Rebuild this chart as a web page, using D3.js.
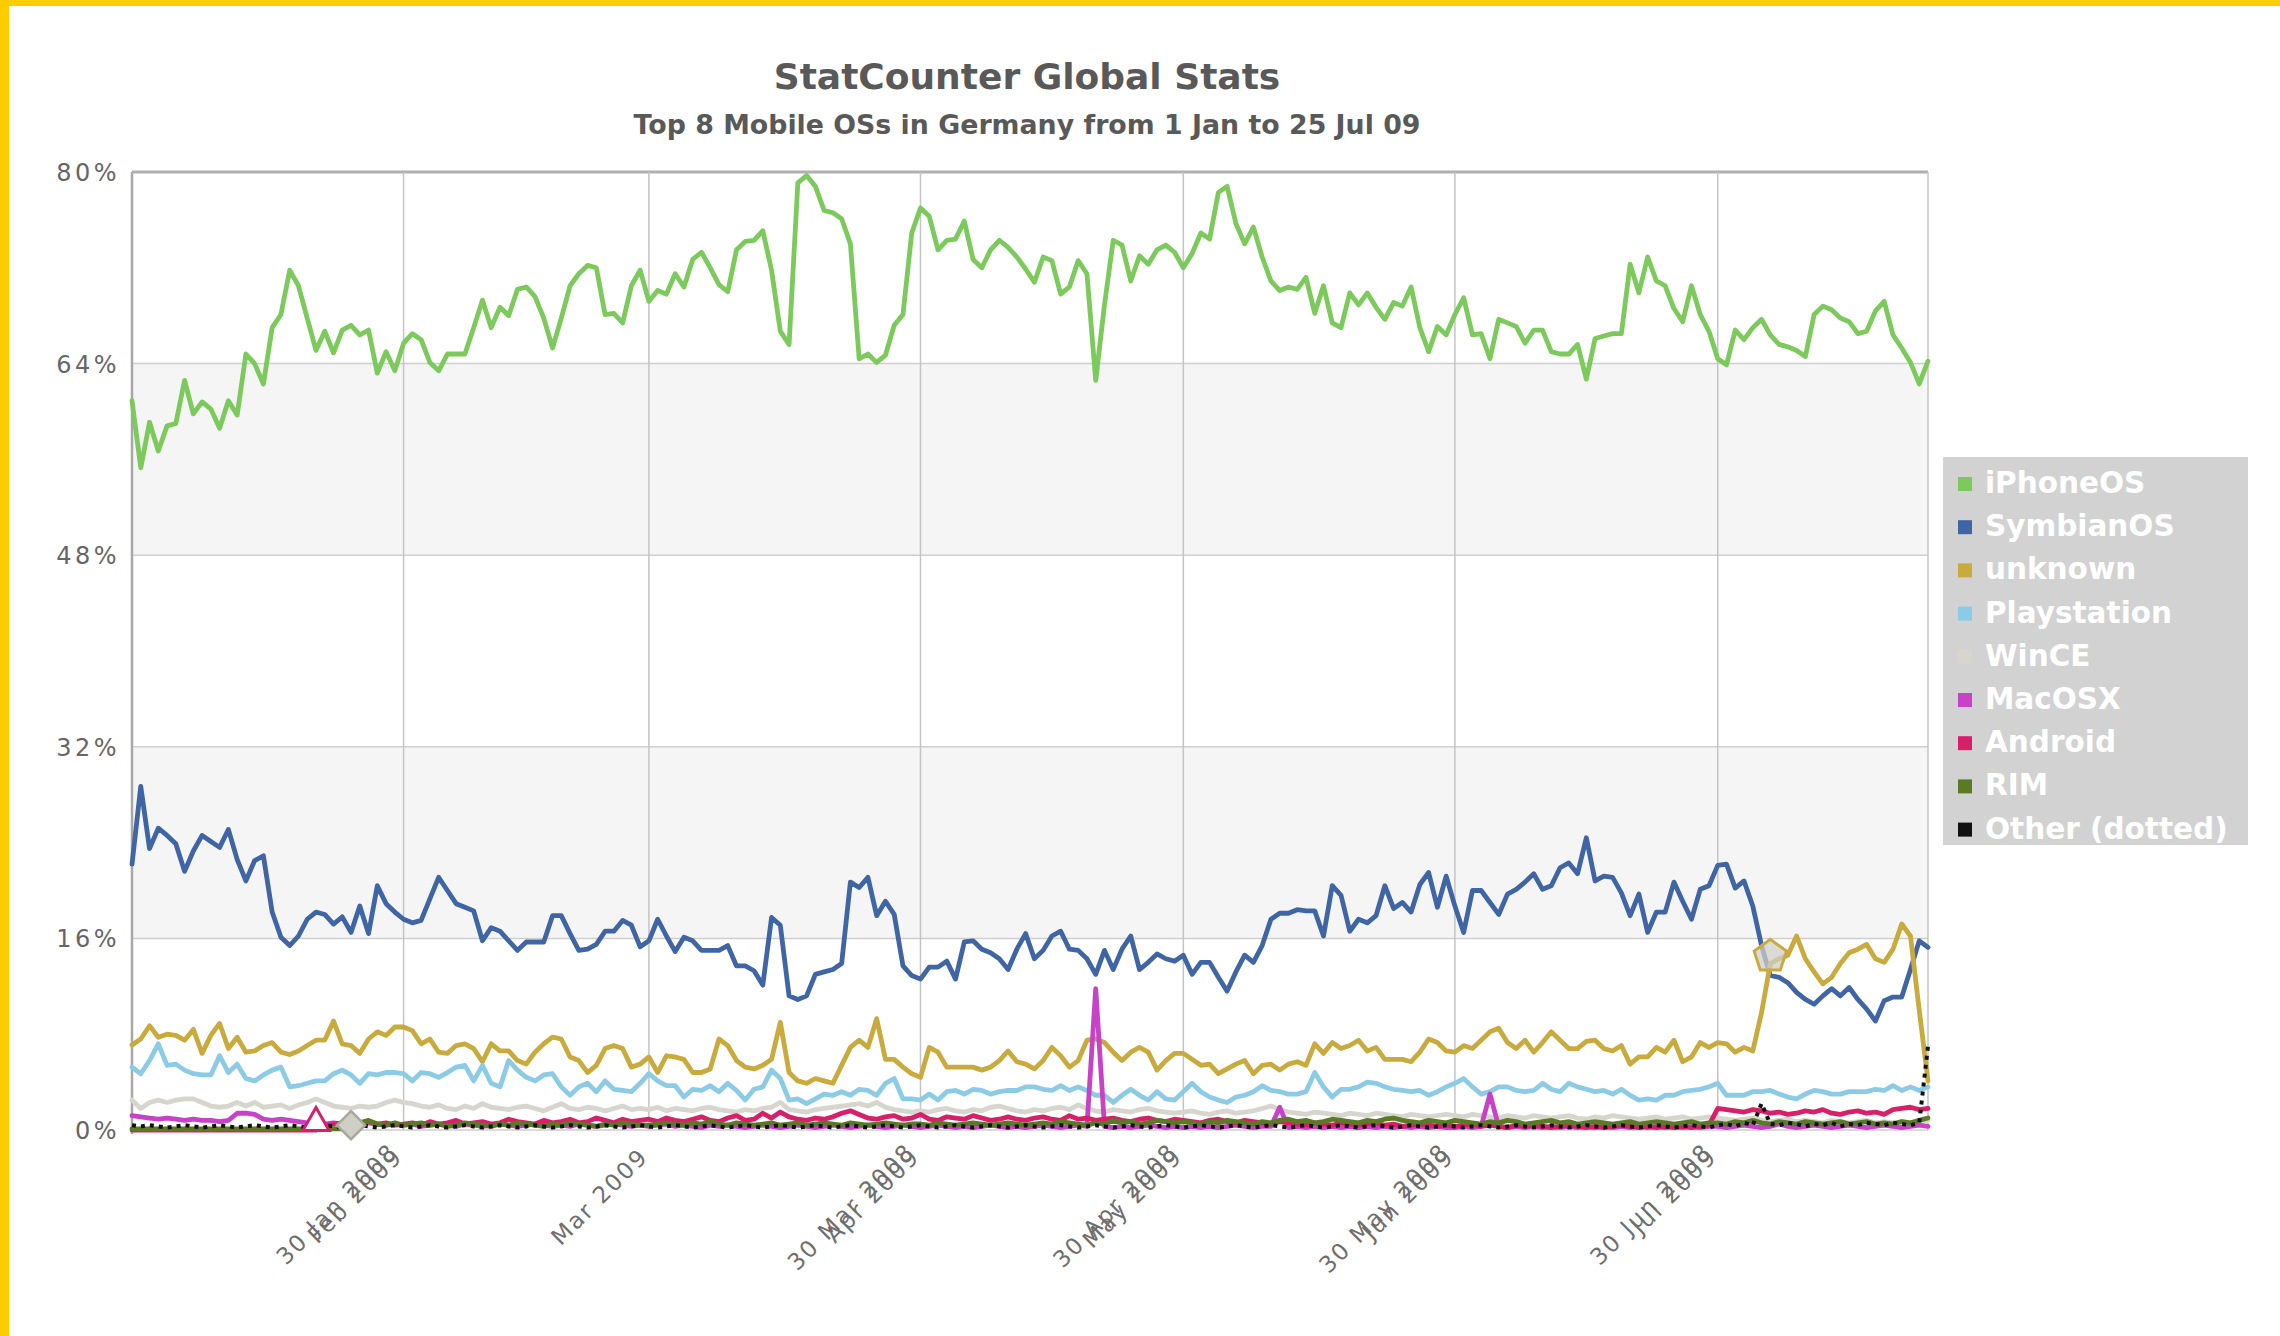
<!DOCTYPE html>
<html><head><meta charset="utf-8">
<script src="https://cdn.jsdelivr.net/npm/d3@7"></script>
<style>html,body{margin:0;padding:0;background:#fff;} svg{display:block;}</style>
</head><body>
<svg id="chart" width="2280" height="1336"></svg>
<script>
// ---------- DATA (daily values, 1 Jan 2009 .. 25 Jul 2009) ----------
const titleText = "StatCounter Global Stats";
const subtitleText = "Top 8 Mobile OSs in Germany from 1 Jan to 25 Jul 09";
const seriesNames = ["iPhoneOS","SymbianOS","unknown","Playstation","WinCE","MacOSX","Android","RIM","Other (dotted)"];
const seriesColors = ["#7cc95c","#4065a5","#c9aa3c","#8ccbe6","#d6d6ce","#c842c8","#d8206a","#5a7a26","#111111"];

const iphone = [
 60.9,55.3,59.1,56.7,58.8,59.0,62.6,59.8,60.8,60.2,58.6,60.9,59.7,64.8,64.0,62.3,67.0,68.1,71.8,70.5,67.8,65.1,66.7,64.9,66.8,67.2,66.4,66.8,63.2,65.0,63.4,
 65.7,66.5,66.0,64.1,63.4,64.8,64.8,64.8,67.0,69.3,67.0,68.7,68.0,70.2,70.4,69.6,67.8,65.3,67.8,70.5,71.5,72.2,72.0,68.1,68.2,67.4,70.5,71.8,
 69.2,70.1,69.8,71.5,70.4,72.7,73.3,72.0,70.6,70.0,73.5,74.2,74.3,75.1,71.8,66.7,65.6,79.1,79.7,78.8,76.8,76.6,76.1,74.0,64.4,64.8,64.1,64.7,67.2,68.1,74.9,
 77.0,76.3,73.5,74.3,74.4,75.9,72.7,72.0,73.5,74.3,73.7,72.9,71.9,70.8,72.9,72.6,69.8,70.4,72.6,71.5,62.6,68.9,74.3,73.9,70.9,73.0,72.3,73.5,73.9,73.3,
 72.0,73.2,74.9,74.4,78.3,78.8,75.7,74.0,75.4,72.9,70.9,70.1,70.4,70.2,71.2,68.2,70.5,67.4,67.0,69.9,68.9,69.9,68.7,67.7,69.1,68.8,70.4,67.0,65.0,67.1,66.4,
 68.1,69.5,66.4,66.5,64.4,67.7,67.4,67.1,65.7,66.8,66.8,65.0,64.8,64.8,65.6,62.7,66.1,66.3,66.5,66.5,72.3,69.9,72.9,70.9,70.5,68.6,67.5,70.5,68.1,66.7,
 64.4,63.9,66.8,66.0,67.0,67.7,66.4,65.6,65.4,65.1,64.6,68.1,68.8,68.5,67.8,67.5,66.5,66.7,68.4,69.2,66.4,65.3,64.1,62.3,64.2
];
const symbian = [
 22.2,28.7,23.5,25.2,24.6,23.9,21.6,23.3,24.6,24.1,23.6,25.1,22.6,20.8,22.5,22.9,18.2,16.1,15.4,16.2,17.6,18.2,18.0,17.2,17.8,16.5,18.7,16.4,20.4,18.9,18.2,
 17.6,17.3,17.5,19.3,21.1,20.0,18.9,18.6,18.3,15.8,16.9,16.6,15.8,15.0,15.7,15.7,15.7,17.9,17.9,16.4,15.0,15.1,15.5,16.6,16.6,17.5,17.1,15.3,
 15.8,17.6,16.2,14.9,16.1,15.8,15.0,15.0,15.0,15.4,13.7,13.7,13.3,12.1,17.75,17.1,11.2,10.9,11.2,13.0,13.2,13.4,13.9,20.7,20.25,21.1,17.9,19.1,18.0,13.7,12.9,
 12.6,13.6,13.6,14.1,12.6,15.7,15.8,15.1,14.8,14.3,13.4,15.1,16.4,14.3,15.0,16.2,16.6,15.1,15.0,14.3,13.0,15.0,13.4,15.1,16.2,13.4,14.0,14.7,14.3,14.1,
 14.6,13.0,14.0,14.0,12.75,11.6,13.2,14.6,14.0,15.4,17.6,18.1,18.1,18.4,18.3,18.3,16.2,20.4,19.6,16.6,17.6,17.3,17.9,20.4,18.5,19.0,18.2,20.5,21.5,18.6,21.2,
 18.7,16.5,20.0,20.0,19.0,18.0,19.7,20.1,20.7,21.4,20.1,20.4,21.9,22.3,21.4,24.4,20.8,21.2,21.1,19.8,17.9,19.7,16.5,18.2,18.2,20.7,19.1,17.6,20.1,20.4,
 22.1,22.2,20.2,20.8,18.7,15.4,12.9,12.75,12.3,11.5,10.9,10.5,11.2,11.8,11.2,11.9,10.9,10.1,9.1,10.8,11.1,11.1,13.4,15.8,15.25
];
const unknown = [
 7.1,7.6,8.7,7.75,8.0,7.9,7.5,8.4,6.4,7.9,8.9,6.8,7.75,6.5,6.6,7.05,7.3,6.5,6.3,6.6,7.05,7.5,7.5,9.1,7.2,7.05,6.4,7.6,8.2,7.9,8.6,
 8.6,8.3,7.2,7.6,6.5,6.4,7.05,7.2,6.8,5.7,7.2,6.6,6.6,5.8,5.5,6.5,7.2,7.75,7.6,6.1,5.8,4.8,5.4,6.8,7.05,6.8,5.25,5.5,
 6.1,4.8,6.2,6.1,5.9,4.8,4.8,5.1,7.6,7.05,5.8,5.25,5.1,5.4,5.9,9.0,4.8,4.1,3.9,4.3,4.1,3.9,5.4,6.9,7.5,6.9,9.3,5.9,5.9,5.25,4.7,
 4.4,6.9,6.5,5.25,5.25,5.25,5.25,5.0,5.25,5.8,6.6,5.7,5.5,5.1,5.8,6.9,6.2,5.25,5.8,7.5,7.6,7.3,6.5,5.8,6.5,6.9,6.5,5.0,5.8,6.4,
 6.4,5.9,5.4,5.5,4.7,5.1,5.5,5.8,4.7,5.4,5.5,5.0,5.5,5.7,5.4,7.2,6.4,7.3,6.8,7.05,7.5,6.6,6.9,5.9,5.9,5.9,5.7,6.5,7.6,7.3,6.6,
 6.5,7.05,6.8,7.5,8.2,8.5,7.3,6.8,7.5,6.5,7.3,8.2,7.5,6.8,6.8,7.4,7.5,6.8,6.6,7.05,5.5,6.1,6.1,6.9,6.5,7.5,5.7,6.1,7.3,6.9,
 7.3,7.2,6.5,6.9,6.6,9.8,13.9,14.3,14.6,16.2,14.3,13.2,12.2,12.75,13.9,14.8,15.1,15.5,14.3,14.0,15.1,17.2,16.2,10.0,4.1
];
const playstation = [
 5.25,4.7,5.8,7.2,5.4,5.5,5.0,4.7,4.6,4.6,6.2,4.8,5.5,4.3,4.1,4.6,5.0,5.25,3.6,3.7,3.9,4.1,4.1,4.7,5.0,4.6,3.9,4.7,4.6,4.8,4.8,
 4.7,4.1,4.8,4.7,4.4,4.8,5.25,5.4,4.1,5.4,3.9,3.6,5.8,5.0,4.4,4.1,4.6,4.7,3.6,2.9,3.6,3.9,3.2,4.1,3.4,3.3,3.2,3.9,
 4.7,4.1,3.7,3.7,2.75,3.4,3.3,3.7,3.2,3.9,3.3,2.5,3.4,3.6,5.0,4.3,2.5,2.6,2.2,2.6,3.0,2.9,3.2,2.9,3.4,3.3,2.9,3.9,4.3,2.6,2.6,
 2.5,3.0,2.5,3.2,3.3,3.0,3.4,3.3,3.0,3.2,3.3,3.3,3.6,3.6,3.4,3.3,3.7,3.3,3.6,3.3,2.9,2.9,2.3,2.9,3.4,2.9,2.5,3.2,2.6,2.5,
 3.2,3.9,3.2,2.75,2.5,2.3,2.75,2.9,3.2,3.7,3.3,3.2,3.0,3.0,3.2,4.8,3.6,2.75,3.4,3.4,3.6,4.0,3.9,3.6,3.4,3.3,3.2,3.3,2.9,3.2,3.6,
 3.9,4.3,3.6,3.0,3.2,3.6,3.6,3.3,3.2,3.3,3.9,3.4,3.2,3.9,3.6,3.4,3.2,3.3,3.0,3.4,2.9,2.5,2.6,2.5,2.9,2.9,3.2,3.3,3.4,3.6,
 3.9,2.9,2.9,2.9,3.2,3.2,3.3,3.0,2.75,2.6,3.0,3.3,3.2,3.0,3.0,3.2,3.2,3.2,3.4,3.3,3.7,3.3,3.6,3.3,3.6
];
const wince = [
 2.5,1.8,2.3,2.5,2.3,2.5,2.6,2.6,2.3,2.0,1.9,2.0,2.3,2.0,2.3,1.9,2.0,2.1,1.8,2.1,2.3,2.6,2.3,2.0,1.9,1.8,2.0,1.9,2.0,2.3,2.5,
 2.3,2.2,2.0,1.9,2.1,1.8,1.7,2.0,1.8,2.2,1.9,1.8,1.7,1.9,2.0,1.8,1.6,1.9,2.2,1.8,1.7,1.9,1.8,1.6,1.8,2.0,1.7,1.8,
 1.7,1.9,1.6,1.8,1.7,1.6,1.8,1.9,1.7,1.6,1.5,1.7,1.6,1.8,1.9,2.3,1.7,1.6,1.5,1.7,1.8,1.9,2.0,2.1,2.2,2.0,2.3,1.9,1.7,1.6,1.5,
 1.6,1.5,1.7,1.8,1.6,1.5,1.7,1.6,1.9,2.0,1.8,1.6,1.5,1.7,1.6,1.8,1.9,1.7,2.1,1.8,1.6,1.5,1.7,1.6,1.5,1.7,1.8,1.6,1.5,1.4,
 1.5,1.6,1.4,1.3,1.5,1.6,1.4,1.5,1.6,1.8,2.0,1.7,1.5,1.4,1.3,1.5,1.4,1.3,1.2,1.4,1.3,1.2,1.4,1.3,1.2,1.1,1.3,1.2,1.1,1.2,1.3,
 1.2,1.1,1.3,1.2,1.1,1.0,1.2,1.1,1.0,1.2,1.1,1.0,1.1,1.2,1.0,0.9,1.1,1.0,1.2,1.1,1.0,0.9,1.0,1.1,0.9,1.0,1.1,0.9,1.0,1.1,
 1.0,0.9,0.8,0.9,1.0,0.8,0.7,0.8,0.9,0.7,0.8,0.7,0.6,0.8,0.7,0.6,0.7,0.8,0.6,0.7,0.6,0.7,0.6,0.7,0.8
];
const macosx = [
 1.2,1.1,1.0,0.9,1.0,0.9,0.8,0.9,0.8,0.8,0.7,0.8,1.4,1.4,1.3,0.9,0.8,0.9,0.8,0.7,0.6,0.3,0.5,0.6,0.5,0.4,0.5,0.6,0.5,0.4,0.5,
 0.4,0.5,0.3,0.4,0.5,0.4,0.3,0.5,0.4,0.3,0.4,0.5,0.4,0.3,0.4,0.5,0.4,0.3,0.4,0.3,0.5,0.4,0.3,0.4,0.5,0.4,0.3,0.4,
 0.3,0.4,0.5,0.3,0.4,0.3,0.2,0.4,0.3,0.4,0.3,0.2,0.3,0.4,0.3,0.2,0.3,0.4,0.3,0.2,0.3,0.4,0.3,0.2,0.3,0.4,0.3,0.2,0.3,0.4,0.3,
 0.2,0.3,0.4,0.3,0.2,0.3,0.2,0.3,0.4,0.3,0.2,0.3,0.2,0.3,0.4,0.3,0.2,0.3,0.4,0.3,11.8,0.3,0.2,0.3,0.2,0.3,0.4,0.3,0.2,0.3,
 0.2,0.3,0.2,0.3,0.2,0.3,0.4,0.3,0.2,0.3,0.3,1.9,0.2,0.3,0.2,0.3,0.2,0.3,0.2,0.3,0.2,0.3,0.2,0.3,0.2,0.3,0.2,0.3,0.2,0.3,0.2,
 0.2,0.3,0.2,0.3,3.0,0.3,0.2,0.3,0.2,0.3,0.2,0.3,0.2,0.3,0.2,0.3,0.2,0.3,0.2,0.3,0.2,0.3,0.2,0.3,0.2,0.3,0.2,0.3,0.2,0.3,
 0.3,0.2,0.3,0.4,0.3,0.2,0.3,0.5,0.3,0.2,0.3,0.4,0.3,0.2,0.3,0.4,0.3,0.2,0.3,0.4,0.3,0.2,0.3,0.4,0.3
];
const android = [
 0,0,0,0,0,0,0,0,0,0,0,0,0,0,0,0,0,0,0,0,0,0.0,0.3,0.5,0.6,0.4,0.5,0.7,0.5,0.6,0.4,
 0.5,0.6,0.4,0.7,0.5,0.6,0.8,0.5,0.6,0.7,0.5,0.6,0.9,0.7,0.6,0.5,0.8,0.6,0.7,0.9,0.6,0.7,1.0,0.8,0.6,0.9,0.7,0.8,
 0.9,0.7,1.0,0.8,0.7,0.9,1.1,0.8,0.7,1.0,1.2,0.8,0.9,1.4,1.0,1.5,1.1,0.9,0.8,1.0,0.9,1.1,1.4,1.6,1.3,1.0,0.9,1.1,1.2,0.9,1.0,
 1.3,0.9,0.8,1.1,1.0,0.9,1.2,1.0,0.8,0.9,1.1,0.9,0.8,1.0,1.1,0.9,0.8,1.2,0.9,1.0,0.8,0.9,1.0,0.8,0.7,0.9,1.0,0.8,0.7,0.9,
 0.8,0.7,0.6,0.8,0.9,0.7,0.6,0.8,0.7,0.6,0.5,0.7,0.6,0.5,0.4,0.6,0.5,0.4,0.6,0.5,0.4,0.5,0.6,0.4,0.5,0.3,0.4,0.5,0.4,0.3,0.4,
 0.3,0.4,0.5,0.3,0.4,0.3,0.2,0.4,0.3,0.4,0.3,0.2,0.3,0.4,0.3,0.2,0.3,0.2,0.3,0.4,0.3,0.2,0.3,0.2,0.3,0.2,0.3,0.2,0.3,0.4,
 1.8,1.7,1.6,1.5,1.7,1.6,1.4,1.5,1.3,1.4,1.6,1.5,1.7,1.4,1.3,1.5,1.6,1.4,1.5,1.3,1.7,1.8,1.9,1.7,1.8
];
const rim = [
 0.1,0.1,0.1,0.1,0.1,0.1,0.1,0.1,0.1,0.1,0.1,0.1,0.1,0.1,0.1,0.1,0.1,0.1,0.1,0.1,0.1,0.1,0.1,0.1,0.1,0.2,0.6,0.8,0.5,0.4,0.6,
 0.4,0.5,0.6,0.4,0.5,0.3,0.4,0.6,0.5,0.4,0.3,0.5,0.4,0.6,0.5,0.4,0.3,0.5,0.4,0.6,0.5,0.4,0.3,0.5,0.4,0.6,0.5,0.4,
 0.4,0.5,0.6,0.5,0.4,0.6,0.5,0.7,0.5,0.4,0.6,0.5,0.4,0.5,0.6,0.4,0.5,0.6,0.4,0.5,0.6,0.5,0.4,0.6,0.5,0.4,0.5,0.6,0.5,0.4,0.5,
 0.5,0.4,0.6,0.5,0.4,0.5,0.6,0.5,0.4,0.5,0.6,0.5,0.4,0.5,0.6,0.5,0.7,0.6,0.5,0.4,0.6,0.5,0.8,0.6,0.7,0.5,0.6,0.8,0.7,0.6,
 0.7,0.6,0.5,0.7,0.6,0.8,0.7,0.6,0.5,0.7,0.6,0.8,0.9,0.7,0.8,0.6,0.7,0.9,0.8,0.7,0.6,0.8,0.7,0.9,1.0,0.8,0.7,0.6,0.8,0.7,0.6,
 0.8,0.7,0.6,0.5,0.7,0.6,0.8,0.7,0.5,0.6,0.7,0.8,0.6,0.7,0.5,0.6,0.7,0.6,0.5,0.6,0.7,0.5,0.6,0.7,0.6,0.5,0.6,0.7,0.5,0.6,
 0.6,0.5,0.7,0.6,0.8,0.6,0.5,0.7,0.6,0.5,0.7,0.6,0.5,0.6,0.7,0.5,0.6,0.7,0.5,0.6,0.5,0.7,0.6,0.8,1.0
];
const other = [
 0.4,0.3,0.4,0.3,0.2,0.3,0.4,0.3,0.2,0.3,0.4,0.3,0.2,0.3,0.4,0.3,0.2,0.3,0.4,0.3,0.2,0.3,0.4,0.3,0.2,0.3,0.4,0.3,0.2,0.3,0.4,
 0.3,0.2,0.3,0.4,0.3,0.2,0.3,0.4,0.3,0.2,0.3,0.4,0.3,0.2,0.3,0.4,0.3,0.2,0.3,0.4,0.3,0.2,0.3,0.4,0.3,0.2,0.3,0.4,
 0.3,0.2,0.3,0.4,0.3,0.2,0.3,0.4,0.3,0.2,0.3,0.4,0.3,0.2,0.3,0.4,0.3,0.2,0.3,0.4,0.3,0.2,0.3,0.4,0.3,0.2,0.3,0.4,0.3,0.2,0.3,
 0.4,0.3,0.2,0.3,0.4,0.3,0.2,0.3,0.4,0.3,0.2,0.3,0.4,0.3,0.2,0.3,0.4,0.3,0.2,0.3,0.4,0.3,0.2,0.3,0.4,0.3,0.2,0.3,0.4,0.3,
 0.2,0.3,0.4,0.3,0.2,0.3,0.4,0.3,0.2,0.3,0.4,0.3,0.2,0.3,0.4,0.3,0.2,0.3,0.4,0.3,0.2,0.3,0.4,0.3,0.2,0.3,0.4,0.3,0.2,0.3,0.4,
 0.3,0.2,0.3,0.4,0.3,0.2,0.3,0.4,0.3,0.2,0.3,0.4,0.3,0.2,0.3,0.4,0.3,0.2,0.3,0.4,0.3,0.2,0.3,0.4,0.3,0.2,0.3,0.4,0.3,0.2,
 0.4,0.5,0.3,0.6,0.4,2.2,0.5,0.4,0.6,0.5,0.3,0.5,0.4,0.6,0.3,0.5,0.4,0.6,0.5,0.4,0.6,0.5,0.4,0.6,7.0
];
const seriesValues = [iphone, symbian, unknown, playstation, wince, macosx, android, rim, other];

const yTicks = [0, 16, 32, 48, 64, 80];
const monthTicks = ["2009-02-01","2009-03-01","2009-04-01","2009-05-01","2009-06-01","2009-07-01"];
const monthLabels = ["Feb 2009","Mar 2009","Apr 2009","May 2009","Jun 2009","Jul 2009"];
const ghostLabels = ["30 Jan 2008","","30 Mar 2008","30 Apr 2008","30 May 2008","30 Jun 2008"];
const markerSeries = ["Android","WinCE","unknown"];
const markerDays = [21, 25, 187];
const markerValues = [0.6, 0.4, 14.5];
const markerShapes = ["triangle","diamond","pentagon"];

// ---------- LAYOUT ----------
const W = 2280, H = 1336;
const M = {left: 132, right: 1928, top: 172, bottom: 1130};
const startDate = new Date(Date.UTC(2009, 0, 1));
const dayMs = 864e5;
const dateOf = i => new Date(startDate.getTime() + i * dayMs);
const endDate = dateOf(iphone.length - 1);

const svg = d3.select("#chart");
svg.append("rect").attr("width", W).attr("height", H).attr("fill", "#fff");
svg.append("rect").attr("x",0).attr("y",0).attr("width",W).attr("height",6).attr("fill","#ffcc00");
svg.append("rect").attr("x",0).attr("y",0).attr("width",9).attr("height",H).attr("fill","#ffcc00");

const x = d3.scaleUtc().domain([startDate, endDate]).range([M.left, M.right]);
const y = d3.scaleLinear().domain([0, 80]).range([M.bottom, M.top]);

// alternating bands
const bands = [[48,64],[16,32]];
svg.append("g").selectAll("rect").data(bands).join("rect")
  .attr("x", M.left).attr("width", M.right - M.left)
  .attr("y", d => y(d[1])).attr("height", d => y(d[0]) - y(d[1]))
  .attr("fill", "#f5f5f5");

// horizontal grid
svg.append("g").selectAll("line").data(yTicks).join("line")
  .attr("x1", M.left).attr("x2", M.right)
  .attr("y1", d => y(d)).attr("y2", d => y(d))
  .attr("stroke", d => d === 80 ? "#b0b0b0" : "#cfcfcf")
  .attr("stroke-width", d => d === 80 ? 3 : 1.5);

// vertical grid
const tickDates = monthTicks.map(s => new Date(s + "T00:00:00Z"));
svg.append("g").selectAll("line").data(tickDates).join("line")
  .attr("x1", d => x(d)).attr("x2", d => x(d))
  .attr("y1", M.top).attr("y2", M.bottom)
  .attr("stroke", "#c4c4c4").attr("stroke-width", 1.5);

// plot border left/right
svg.append("line").attr("x1", M.left).attr("x2", M.left).attr("y1", M.top).attr("y2", M.bottom + 4)
  .attr("stroke", "#a8a8a8").attr("stroke-width", 2.5);
svg.append("line").attr("x1", M.right).attr("x2", M.right).attr("y1", M.top).attr("y2", M.bottom)
  .attr("stroke", "#c4c4c4").attr("stroke-width", 1.5);

// ---------- SERIES ----------
const line = d3.line().x((d, i) => x(dateOf(i))).y(d => y(d));
const gLines = svg.append("g");
seriesValues.forEach((vals, k) => {
  gLines.append("path")
    .attr("d", line(vals))
    .attr("fill", "none")
    .attr("stroke", seriesColors[k])
    .attr("stroke-width", k === 8 ? 4 : 4.8)
    .attr("stroke-linejoin", "round")
    .attr("stroke-linecap", k === 8 ? "butt" : "round")
    .attr("stroke-dasharray", k === 8 ? "4,5" : null);
});

// markers
const gMarks = svg.append("g");
markerShapes.forEach((shape, i) => {
  const cx = x(dateOf(markerDays[i])), cy = y(markerValues[i]);
  const col = seriesColors[seriesNames.indexOf(markerSeries[i])];
  if (shape === "triangle") {
    gMarks.append("path").attr("d", d3.symbol(d3.symbolTriangle, 300)())
      .attr("transform", `translate(${cx},${cy})`)
      .attr("fill", "#fff").attr("stroke", col).attr("stroke-width", 3);
  } else if (shape === "diamond") {
    gMarks.append("path").attr("d", d3.symbol(d3.symbolSquare, 400)())
      .attr("transform", `translate(${cx},${cy}) rotate(45)`)
      .attr("fill", "#cfcfc6").attr("stroke", "#aaa89c").attr("stroke-width", 2.5);
  } else {
    const r = 17;
    const pts = d3.range(5).map(j => [cx + r * Math.sin(j * 2 * Math.PI / 5), cy - r * Math.cos(j * 2 * Math.PI / 5)]);
    gMarks.append("path").attr("d", d3.line()(pts) + "Z")
      .attr("fill", "rgba(205,205,200,0.75)").attr("stroke", col).attr("stroke-width", 3);
  }
});

// ---------- AXES ----------
const yAxis = svg.append("g").attr("transform", `translate(${M.left},0)`)
  .call(d3.axisLeft(y).tickValues(yTicks).tickFormat(d => d + "%").tickSize(0).tickPadding(12));
yAxis.select(".domain").remove();
yAxis.selectAll("text")
  .attr("font-family", "DejaVu Sans").attr("font-size", 24).attr("letter-spacing", 3.5)
  .attr("fill", "#666").attr("dy", "0.35em");

function xAxisWith(labels, dx, dy) {
  const g = svg.append("g").attr("transform", `translate(0,${M.bottom})`)
    .call(d3.axisBottom(x).tickValues(tickDates).tickFormat((d, i) => labels[i]).tickSize(0));
  g.select(".domain").remove();
  g.selectAll("text")
    .attr("x", 0).attr("y", 0).attr("dy", 0)
    .attr("text-anchor", "end")
    .attr("transform", `translate(${dx},${dy}) rotate(-45)`)
    .attr("font-family", "DejaVu Sans").attr("font-size", 23).attr("letter-spacing", 2)
    .attr("fill", "#6e6e6e");
  return g;
}
xAxisWith(ghostLabels, -5, 23);
xAxisWith(monthLabels, 0, 28);

// ---------- TITLES ----------
const cxTitle = (M.left + M.right) / 2 - 3;
svg.append("text").attr("x", cxTitle).attr("y", 76).attr("text-anchor", "middle")
  .attr("dominant-baseline", "central")
  .attr("font-family", "DejaVu Sans").attr("font-weight", "bold").attr("font-size", 36)
  .attr("fill", "#595959").text(titleText);
svg.append("text").attr("x", cxTitle).attr("y", 124).attr("text-anchor", "middle")
  .attr("dominant-baseline", "central")
  .attr("font-family", "DejaVu Sans").attr("font-weight", "bold").attr("font-size", 26.8)
  .attr("fill", "#595959").text(subtitleText);

// ---------- LEGEND ----------
const L = {x: 1943, y: 457, w: 305, h: 388};
const gLeg = svg.append("g");
gLeg.append("rect").attr("x", L.x).attr("y", L.y).attr("width", L.w).attr("height", L.h).attr("fill", "#d2d2d2");
const items = gLeg.selectAll("g.item").data(seriesNames).join("g")
  .attr("transform", (d, i) => `translate(${L.x + 15},${L.y + 26 + i * 43.2})`);
items.append("rect").attr("x", 0).attr("y", -6).attr("width", 14).attr("height", 14)
  .attr("fill", (d, i) => seriesColors[i]);
items.append("text").attr("x", 27).attr("y", 0).attr("dominant-baseline", "central")
  .attr("font-family", "DejaVu Sans").attr("font-weight", "bold").attr("font-size", 29.5)
  .attr("fill", "#ffffff").text(d => d);
</script>
</body></html>
